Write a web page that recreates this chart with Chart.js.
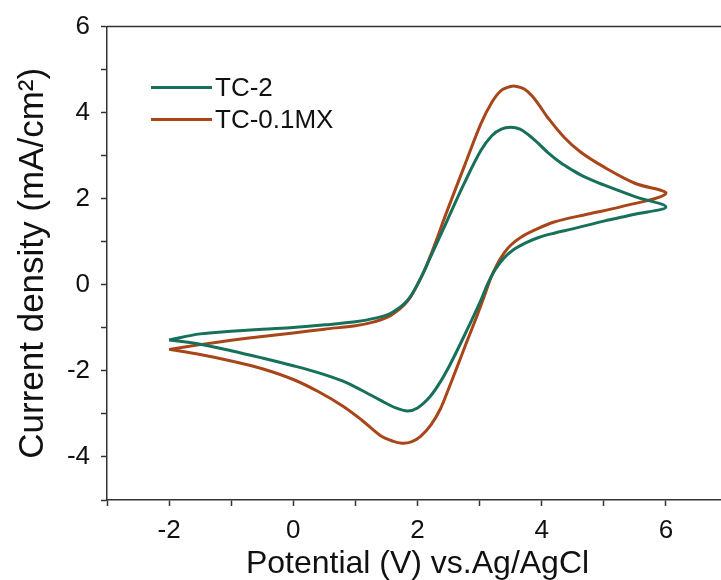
<!DOCTYPE html>
<html>
<head>
<meta charset="utf-8">
<script src="https://cdn.jsdelivr.net/npm/chart.js@4.4.1/dist/chart.umd.min.js"></script>
<style>
  html, body { margin: 0; padding: 0; background: #fff; overflow: hidden; }
  #wrap { width: 740px; height: 580px; }
</style>
</head>
<body>
<div id="wrap"><canvas id="cv"></canvas></div>
<script>
// Datos (potencial V, densidad de corriente mA/cm2)
const serieNombres = ['TC-2', 'TC-0.1MX'];
const serieColores = ['#16705a', '#a84619'];

// TC-2: rama superior de -2 a 6 y luego rama inferior de vuelta a -2
const potTC2 = [-2, -1.5, -1.0, -0.5, 0, 0.5, 1.0, 1.3, 1.57, 1.84, 2.05, 2.21, 2.48, 2.75, 3.02, 3.2, 3.35, 3.5, 3.65, 3.8, 3.95, 4.1, 4.3, 4.5, 4.7, 5.0, 5.5, 6.0,
                5.5, 5.0, 4.5, 4.2, 3.95, 3.75, 3.55, 3.39, 3.25, 3.13, 3.02, 2.83, 2.64, 2.5, 2.37, 2.2, 2.0, 1.84, 1.65, 1.4, 1.1, 0.8, 0.4, 0, -0.5, -1.0, -1.5, -2];
const curTC2 = [-1.28, -1.14, -1.08, -1.03, -0.99, -0.93, -0.86, -0.78, -0.66, -0.36, 0.15, 0.65, 1.5, 2.35, 3.12, 3.47, 3.62, 3.66, 3.62, 3.47, 3.28, 3.07, 2.84, 2.66, 2.5, 2.32, 2.05, 1.81,
                1.64, 1.48, 1.3, 1.2, 1.1, 0.98, 0.82, 0.62, 0.35, 0.02, -0.36, -0.95, -1.52, -1.92, -2.25, -2.6, -2.86, -2.93, -2.86, -2.68, -2.45, -2.24, -2.04, -1.88, -1.70, -1.53, -1.38, -1.28];

// TC-0.1MX
const potTC01 = [-2, -1.5, -1.0, -0.5, 0, 0.5, 1.0, 1.3, 1.57, 1.84, 2.05, 2.21, 2.48, 2.75, 3.02, 3.2, 3.35, 3.5, 3.6, 3.72, 3.85, 3.97, 4.09, 4.36, 4.63, 5.0, 5.5, 6.0,
                 5.27, 4.73, 4.2, 3.9, 3.66, 3.5, 3.39, 3.28, 3.18, 3.08, 2.95, 2.8, 2.64, 2.5, 2.37, 2.22, 2.05, 1.9, 1.75, 1.6, 1.4, 1.1, 0.8, 0.4, 0, -0.5, -1.0, -1.5, -2];
const curTC01 = [-1.5, -1.39, -1.29, -1.2, -1.12, -1.03, -0.95, -0.86, -0.71, -0.38, 0.15, 0.68, 1.73, 2.74, 3.74, 4.25, 4.52, 4.61, 4.61, 4.55, 4.38, 4.15, 3.9, 3.43, 3.08, 2.74, 2.36, 2.12,
                 1.81, 1.64, 1.46, 1.28, 1.1, 0.92, 0.73, 0.47, 0.16, -0.25, -0.75, -1.3, -1.9, -2.42, -2.88, -3.25, -3.52, -3.65, -3.68, -3.63, -3.5, -3.14, -2.82, -2.48, -2.2, -1.95, -1.77, -1.62, -1.5];

const xMin = -3, xMax = 7;
const yMin = -5, yMax = 6;

const toPts = (xs, ys) => xs.map((x, i) => ({ x: x, y: ys[i] }));

// marco del area del grafico
const marco = {
  id: 'marco',
  afterDraw(chart) {
    const { ctx, chartArea: a } = chart;
    ctx.save();
    ctx.strokeStyle = '#333';
    ctx.lineWidth = 1.5;
    ctx.beginPath();
    ctx.moveTo(a.left, a.top);
    ctx.lineTo(a.right, a.top);
    ctx.lineTo(a.right, a.bottom);
    ctx.stroke();
    ctx.restore();
  }
};

const fuente = '"Liberation Sans", Arial, sans-serif';

// leyenda dentro del area
const leyenda = {
  id: 'leyenda',
  afterDraw(chart) {
    const { ctx, chartArea: a } = chart;
    ctx.save();
    ctx.font = '26px ' + fuente;
    ctx.textBaseline = 'middle';
    chart.data.datasets.forEach((ds, i) => {
      const y = a.top + 61 + i * 32;
      ctx.strokeStyle = ds.borderColor;
      ctx.lineWidth = 3;
      ctx.beginPath();
      ctx.moveTo(a.left + 44, y);
      ctx.lineTo(a.left + 105, y);
      ctx.stroke();
      ctx.fillStyle = '#111';
      ctx.fillText(ds.label, a.left + 108, y + 1);
    });
    ctx.restore();
  }
};

new Chart(document.getElementById('cv'), {
  type: 'scatter',
  data: {
    datasets: [
      {
        label: serieNombres[0],
        data: toPts(potTC2, curTC2),
        showLine: true,
        borderColor: serieColores[0],
        borderWidth: 3,
        pointRadius: 0,
        tension: 0.35
      },
      {
        label: serieNombres[1],
        data: toPts(potTC01, curTC01),
        showLine: true,
        borderColor: serieColores[1],
        borderWidth: 3,
        pointRadius: 0,
        tension: 0.35
      }
    ]
  },
  options: {
    responsive: true,
    maintainAspectRatio: false,
    animation: false,
    layout: { padding: { top: 26, right: 12, left: 0, bottom: 0 } },
    plugins: {
      legend: { display: false },
      tooltip: { enabled: false }
    },
    scales: {
      x: {
        type: 'linear',
        min: xMin,
        max: xMax,
        afterFit: (s) => { s.height = 80; },
        border: { display: true, color: '#333', width: 1.5 },
        grid: { drawOnChartArea: false, drawTicks: true, tickLength: 6, color: '#333', tickWidth: 1.5 },
        ticks: {
          stepSize: 1,
          color: '#111',
          padding: 9,
          font: { family: fuente, size: 26 },
          callback: (v) => (v % 2 === 0 ? String(v) : '')
        },
        title: {
          display: true,
          text: 'Potential (V) vs.Ag/AgCl',
          color: '#111',
          font: { family: fuente, size: 32 },
          padding: { top: 0, bottom: -3 }
        }
      },
      y: {
        type: 'linear',
        min: yMin,
        max: yMax,
        afterFit: (s) => { s.width = 107; },
        border: { display: true, color: '#333', width: 1.5 },
        grid: { drawOnChartArea: false, drawTicks: true, tickLength: 6, color: '#333', tickWidth: 1.5 },
        ticks: {
          stepSize: 1,
          color: '#111',
          padding: 11,
          font: { family: fuente, size: 26 },
          callback: (v) => (v % 2 === 0 ? String(v) : '')
        },
        title: {
          display: true,
          text: 'Current density (mA/cm²)',
          color: '#111',
          font: { family: fuente, size: 35 },
          padding: { top: 12, bottom: 0 }
        }
      }
    }
  },
  plugins: [marco, leyenda]
});
</script>
</body>
</html>
